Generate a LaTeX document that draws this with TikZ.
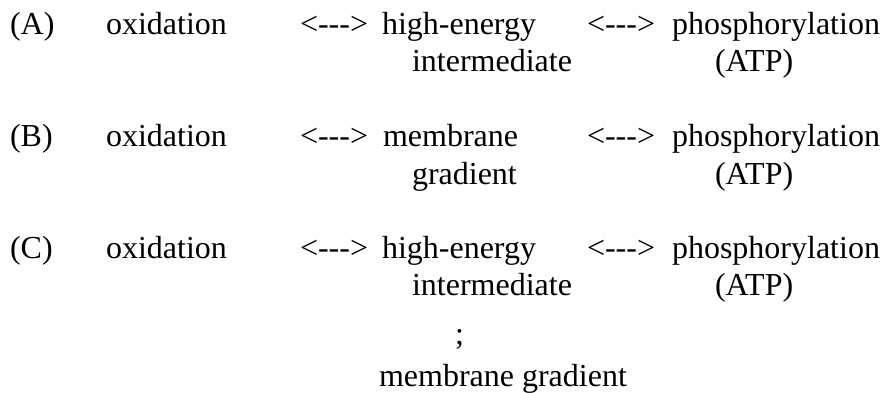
\documentclass[tikz,border=0pt]{standalone}
\usepackage{fontspec}
\setmainfont{Liberation Serif}
\usepackage{tikz}
\usetikzlibrary{positioning}
\newcommand{\dasharrow}{<\mbox{-}\mbox{-}\mbox{-}>}
\tikzset{
  term/.style={anchor=base west, inner sep=0pt, outer sep=0pt, font=\fontsize{32}{37}\selectfont, text=black},
}

\begin{document}
\begin{tikzpicture}[x=1pt, y=-1pt]
  \useasboundingbox (0,0) rectangle (881,393);
  % the parts every scheme shares, one row each
  \foreach \r/\y in {A/35, B/147, C/258} {
    \node[term] (lab\r) at (10,\y) {(\r)};
    \node[term] (ox\r) at (106,\y) {oxidation};
    \node[term] (arl\r) at (300,\y) {\dasharrow};
    \node[term] (arr\r) at (587,\y) {\dasharrow};
    \node[term] (ph\r) at (672,\y) {phosphorylation};
    \node[term] (atp\r) at (715,\y+37) {(ATP)};
  }
  % middle terms
  \node[term] (hiA) at (382,35) {high-energy};
  \node[term] (intA) at (412,72) {intermediate};
  \node[term] (memB) at (383,147) {membrane};
  \node[term] (grB) at (412,184) {gradient};
  \node[term] (hiC) at (382,258) {high-energy};
  \node[term] (intC) at (412,295) {intermediate};
  \node[term] (semC) at (455,344) {;};
  \node[term] (mgC) at (379,386) {membrane gradient};
\end{tikzpicture}
\end{document}
